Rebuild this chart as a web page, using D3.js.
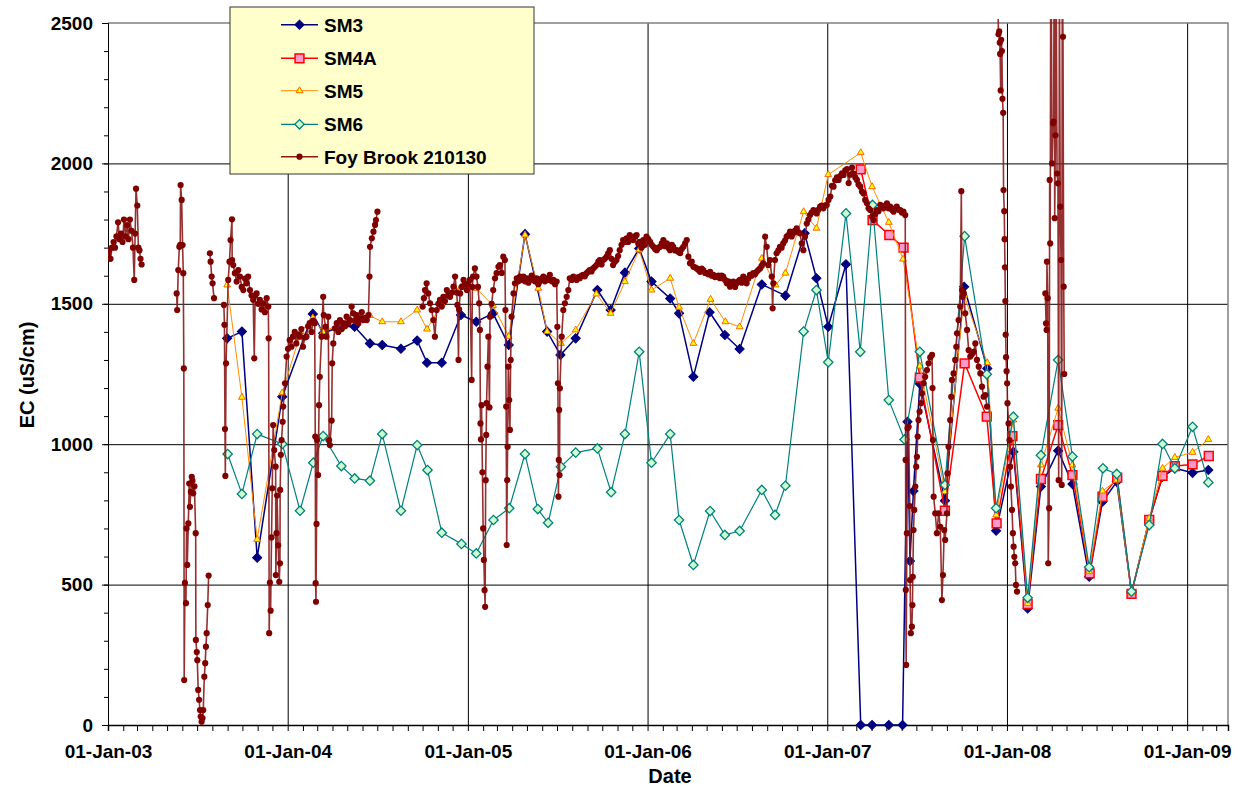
<!DOCTYPE html>
<html><head><meta charset="utf-8">
<script src="https://cdn.jsdelivr.net/npm/d3@7"></script>
<style>
body{margin:0;background:#fff;}
svg{display:block;font-family:"Liberation Sans",Arial,sans-serif;font-weight:bold;}
</style>
</head><body>
<svg id="chart" width="1242" height="788"></svg>
<script>
// ---------------- DATA ----------------
const yTickValues = [0, 500, 1000, 1500, 2000, 2500];
const seriesNames = ["SM3", "SM4A", "SM5", "SM6", "Foy Brook 210130"];

const sm3Dates = ["2003-08-31","2003-09-30","2003-10-31","2003-12-21","2004-02-21","2004-03-13","2004-04-19","2004-05-16","2004-06-16","2004-07-11","2004-08-18","2004-09-20","2004-10-10","2004-11-09","2004-12-18","2005-01-18","2005-02-21","2005-03-25","2005-04-27","2005-06-11","2005-07-08","2005-08-08","2005-09-21","2005-10-18","2005-11-16","2005-12-15","2006-01-09","2006-02-16","2006-03-06","2006-04-04","2006-05-07","2006-06-07","2006-07-07","2006-08-21","2006-10-08","2006-11-16","2006-12-10","2007-01-03","2007-02-08","2007-03-10","2007-04-02","2007-05-06","2007-06-03","2007-06-13","2007-06-18","2007-06-25","2007-07-08","2007-08-28","2007-10-06","2007-11-22","2007-12-10","2008-01-14","2008-02-12","2008-03-10","2008-04-14","2008-05-13","2008-06-16","2008-07-13","2008-08-11","2008-09-10","2008-10-16","2008-11-12","2008-12-07","2009-01-12","2009-02-13"];
const sm3EC = [1377,1401,596,1169,1464,1395,1420,1418,1359,1353,1340,1369,1290,1290,1460,1436,1466,1353,1748,1401,1318,1377,1549,1478,1611,1697,1579,1519,1466,1240,1470,1389,1339,1569,1529,1751,1591,1418,1641,0,0,0,0,1080,584,833,1215,799,1561,1270,692,973,415,849,977,858,528,795,866,471,730,884,914,898,908];

const sm4aDates = ["2007-03-10","2007-04-03","2007-05-07","2007-06-05","2007-07-08","2007-08-28","2007-10-07","2007-11-21","2007-12-11","2008-01-12","2008-02-12","2008-03-10","2008-04-14","2008-05-13","2008-06-17","2008-07-13","2008-08-12","2008-09-10","2008-10-16","2008-11-12","2008-12-07","2009-01-12","2009-02-14"];
const sm4aEC = [1979,1798,1745,1700,1237,763,1288,1098,718,1029,431,876,1068,890,540,813,881,467,730,887,922,928,958];

const sm5Dates = ["2003-08-31","2003-09-30","2003-10-31","2003-12-21","2004-01-28","2004-02-21","2004-03-13","2004-04-19","2004-05-16","2004-06-16","2004-07-11","2004-08-18","2004-09-20","2004-10-10","2004-11-09","2004-12-18","2005-01-18","2005-02-21","2005-03-25","2005-04-27","2005-05-24","2005-06-11","2005-07-09","2005-08-08","2005-09-19","2005-10-18","2005-11-16","2005-12-15","2006-01-09","2006-02-16","2006-03-06","2006-04-04","2006-05-09","2006-06-08","2006-07-07","2006-08-21","2006-09-18","2006-10-08","2006-11-14","2006-12-10","2007-01-03","2007-03-10","2007-04-02","2007-05-06","2007-06-04","2007-07-08","2007-08-28","2007-10-06","2007-11-22","2007-12-10","2008-01-14","2008-02-12","2008-03-10","2008-04-14","2008-05-13","2008-06-16","2008-07-13","2008-08-11","2008-09-10","2008-10-16","2008-11-12","2008-12-07","2009-01-12","2009-02-13"];
const sm5EC = [1567,1167,661,1183,1401,1450,1400,1430,1440,1458,1436,1436,1478,1410,1500,1560,1555,1494,1384,1745,1555,1401,1359,1407,1535,1466,1579,1692,1549,1591,1488,1359,1516,1436,1418,1662,1567,1609,1828,1769,1960,2038,1917,1790,1659,1278,831,1530,1290,748,1086,433,926,1128,926,546,833,872,471,736,914,953,971,1017];

const sm6Dates = ["2003-09-01","2003-09-30","2003-10-31","2003-12-21","2004-01-26","2004-02-22","2004-03-13","2004-04-19","2004-05-16","2004-06-16","2004-07-11","2004-08-18","2004-09-20","2004-10-11","2004-11-09","2004-12-19","2005-01-18","2005-02-22","2005-03-26","2005-04-27","2005-05-23","2005-06-13","2005-07-09","2005-08-08","2005-09-21","2005-10-19","2005-11-16","2005-12-15","2006-01-09","2006-02-16","2006-03-06","2006-04-04","2006-05-08","2006-06-07","2006-07-07","2006-08-21","2006-09-17","2006-10-08","2006-11-14","2006-12-10","2007-01-03","2007-02-08","2007-03-09","2007-04-03","2007-05-06","2007-06-07","2007-07-08","2007-08-28","2007-10-07","2007-11-21","2007-12-10","2008-01-14","2008-02-12","2008-03-10","2008-04-14","2008-05-13","2008-06-16","2008-07-14","2008-08-11","2008-09-10","2008-10-16","2008-11-12","2008-12-07","2009-01-12","2009-02-13"];
const sm6EC = [965,823,1036,1001,763,934,1029,922,878,870,1036,763,997,908,685,645,611,730,772,965,769,720,920,970,985,829,1036,1329,934,1036,730,570,762,677,691,837,748,852,1401,1549,1292,1822,1329,1852,1157,1017,1329,855,1741,1249,772,1098,453,961,1300,956,562,914,894,475,712,1001,914,1062,864];

// Foy Brook 210130: dates as decimal years; null marks a gap in the record
const foyYear = [
2003.001,2003.006,2003.014,2003.022,2003.031,2003.039,2003.047,2003.056,2003.064,2003.072,2003.081,2003.089,2003.097,2003.106,2003.114,2003.122,2003.131,2003.139,2003.146,2003.151,2003.156,2003.163,2003.169,2003.175,2003.181,2003.187,
null,
2003.382,2003.385,2003.391,2003.397,2003.402,2003.404,2003.410,2003.415,2003.419,2003.422,2003.424,2003.428,2003.434,2003.437,2003.441,2003.447,2003.452,2003.456,2003.461,2003.466,2003.470,2003.474,2003.481,2003.488,2003.489,2003.494,2003.497,2003.502,2003.507,2003.512,2003.516,2003.521,2003.526,2003.530,2003.536,2003.541,2003.545,2003.549,2003.555,2003.560,
null,
2003.567,2003.571,2003.577,2003.582,2003.590,
null,
2003.645,2003.648,2003.651,2003.653,2003.657,2003.669,2003.676,2003.682,2003.690,2003.691,2003.697,2003.706,2003.716,2003.725,2003.734,2003.744,2003.753,2003.762,2003.771,2003.780,2003.790,2003.799,2003.808,2003.814,2003.819,2003.827,2003.836,2003.845,2003.855,2003.864,2003.873,2003.883,2003.892,2003.894,2003.897,2003.901,2003.905,2003.910,2003.914,2003.919,2003.925,2003.933,2003.934,2003.938,2003.941,2003.947,2003.953,2003.957,2003.958,2003.962,2003.966,2003.972,2003.975,2003.985,2003.994,
2004.002,2004.011,2004.021,2004.029,2004.039,2004.048,2004.057,2004.067,2004.076,2004.085,2004.095,2004.104,2004.113,2004.122,2004.132,2004.141,2004.150,2004.153,2004.155,2004.157,2004.160,2004.163,2004.169,2004.174,2004.178,2004.188,2004.197,2004.200,2004.210,2004.215,2004.225,2004.230,2004.234,2004.244,2004.247,2004.253,2004.262,2004.272,2004.281,2004.290,2004.300,2004.309,2004.318,2004.327,2004.337,2004.346,2004.355,2004.364,2004.373,2004.383,2004.392,2004.400,2004.411,2004.420,2004.429,2004.439,2004.448,2004.454,2004.457,2004.467,2004.476,2004.485,2004.490,2004.498,
null,
2004.749,2004.756,2004.762,2004.771,2004.780,2004.790,2004.799,2004.808,2004.817,2004.827,2004.836,2004.845,2004.855,2004.864,2004.873,2004.883,2004.892,2004.901,2004.911,2004.920,2004.929,2004.938,2004.942,2004.948,2004.951,2004.957,2004.966,2004.976,2004.985,2004.994,
2005.002,2005.011,2005.021,2005.025,2005.029,2005.039,2005.048,2005.056,2005.063,2005.067,2005.070,2005.073,2005.076,2005.081,2005.085,2005.089,2005.093,2005.096,2005.099,2005.102,2005.104,2005.109,2005.114,2005.120,2005.123,2005.132,2005.141,2005.151,2005.160,2005.170,2005.178,2005.188,2005.197,2005.206,2005.209,2005.213,2005.216,2005.219,2005.221,2005.225,2005.230,2005.234,2005.238,2005.243,2005.254,2005.262,2005.272,2005.281,2005.290,2005.300,2005.309,2005.318,2005.327,2005.337,2005.346,2005.355,2005.364,2005.373,2005.383,2005.392,2005.400,2005.411,2005.420,2005.429,2005.439,2005.448,2005.456,2005.467,2005.476,2005.485,2005.494,2005.498,2005.501,2005.504,2005.506,2005.508,2005.510,2005.512,2005.522,2005.531,2005.540,2005.550,2005.559,2005.567,2005.578,2005.587,2005.596,2005.605,2005.615,2005.623,2005.633,2005.642,2005.651,2005.661,2005.670,2005.678,2005.688,2005.697,2005.707,2005.716,2005.726,2005.734,2005.744,2005.753,2005.762,2005.772,2005.781,2005.790,2005.799,2005.808,2005.818,2005.827,2005.836,2005.845,2005.855,2005.864,2005.873,2005.883,2005.892,2005.901,2005.911,2005.920,2005.929,2005.939,2005.948,2005.957,2005.966,2005.976,2005.985,2005.994,
2006.004,2006.014,2006.023,2006.032,2006.042,2006.051,2006.060,2006.070,2006.079,2006.088,2006.097,2006.107,2006.116,2006.125,2006.135,2006.143,2006.153,2006.162,2006.171,2006.181,2006.190,2006.199,2006.209,2006.218,2006.227,2006.236,2006.246,2006.255,2006.264,2006.274,2006.283,2006.292,2006.301,2006.310,2006.320,2006.329,2006.338,2006.348,2006.357,2006.366,2006.375,2006.385,2006.394,2006.403,2006.412,2006.421,2006.431,2006.441,2006.450,2006.459,2006.468,2006.477,2006.487,2006.496,2006.505,2006.514,2006.524,2006.533,2006.542,2006.551,2006.561,2006.570,2006.579,2006.588,2006.598,2006.607,2006.616,2006.626,2006.635,2006.644,2006.654,2006.663,2006.672,2006.681,2006.691,2006.696,2006.700,2006.709,2006.718,2006.728,2006.737,2006.746,2006.755,2006.765,2006.774,2006.783,2006.793,2006.802,2006.811,2006.820,2006.830,2006.839,2006.848,2006.858,2006.867,2006.876,2006.886,2006.895,2006.904,2006.913,2006.923,2006.932,2006.941,2006.950,2006.960,2006.969,2006.978,2006.987,2006.997,
2007.007,2007.017,2007.026,2007.035,2007.044,2007.054,2007.063,2007.072,2007.082,2007.091,2007.100,2007.110,2007.119,2007.128,2007.138,2007.147,2007.156,2007.165,2007.174,2007.184,2007.193,2007.202,2007.211,2007.221,2007.230,2007.239,2007.249,2007.258,2007.267,2007.276,2007.285,2007.295,2007.304,2007.313,2007.323,2007.332,2007.341,2007.350,2007.360,2007.369,2007.378,2007.387,2007.397,2007.406,2007.415,2007.424,2007.434,2007.436,2007.437,2007.439,2007.443,2007.447,2007.453,2007.459,2007.461,2007.465,2007.471,2007.474,2007.476,2007.480,2007.484,2007.490,2007.495,2007.499,2007.503,2007.508,2007.514,2007.522,2007.527,2007.536,2007.545,2007.555,2007.564,2007.573,2007.583,2007.586,2007.588,2007.592,2007.601,2007.610,2007.620,2007.629,2007.638,2007.644,2007.651,2007.656,2007.666,2007.669,2007.675,2007.684,2007.690,2007.694,2007.703,2007.712,2007.718,2007.722,2007.731,2007.740,2007.746,2007.750,2007.753,2007.759,2007.768,2007.778,2007.787,2007.796,2007.805,2007.815,2007.824,2007.833,2007.843,2007.852,2007.861,2007.870,2007.880,2007.889,
null,
2007.948,2007.953,2007.957,2007.960,2007.962,2007.965,2007.968,2007.972,2007.975,2007.979,2007.981,2007.985,2007.987,2007.989,2007.991,2007.993,2007.995,2007.998,2008.001,2008.003,2008.009,2008.014,2008.018,2008.022,2008.028,2008.033,2008.037,2008.041,2008.046,2008.050,2008.056,
null,
2008.213,2008.217,2008.220,2008.222,2008.226,2008.229,2008.234,2008.237,2008.240,2008.243,2008.246,2008.250,2008.256,2008.259,2008.262,2008.265,2008.269,2008.273,2008.278,2008.283,2008.287,2008.291,2008.296,2008.300,2008.304,2008.307,2008.311,2008.315,2008.318
];
const foyEC = [
1670,1690,1660,1700,1720,1700,1740,1790,1730,1750,1720,1800,1740,1780,1730,1800,1760,1700,1585,1750,1910,1850,1700,1690,1660,1640,
null,
1537,1478,1620,1703,1710,1923,1870,1709,1609,1270,160,506,434,700,570,718,860,777,830,884,870,825,850,683,303,260,231,125,90,53,30,12,25,53,172,220,279,327,427,532,
null,
1680,1650,1597,1573,1520,
null,
1496,1425,1054,887,1288,1585,1650,1727,1801,1656,1638,1609,1579,1620,1597,1560,1549,1590,1573,1597,1549,1530,1514,1306,1530,1537,1500,1514,1480,1502,1470,1520,1490,1377,327,507,407,668,843,1068,979,920,534,683,817,640,510,576,837,962,1015,1080,1134,1217,1312,
1340,1371,1347,1383,1400,1359,1390,1383,1410,1347,1380,1383,1420,1431,1400,1440,1431,1027,505,439,716,1015,890,1139,1240,1383,1525,1460,1418,1383,1454,1015,997,1084,1288,1359,1413,1431,1400,1442,1410,1431,1420,1454,1430,1442,1490,1466,1440,1460,1430,1448,1470,1442,1450,1442,1460,1597,1703,1733,1757,1781,1798,1828,
null,
1490,1520,1549,1573,1537,1502,1478,1442,1383,1478,1500,1514,1490,1525,1510,1549,1530,1525,1540,1561,1597,1540,1496,1300,1480,1537,1560,1585,1570,1549,
1570,1585,1229,1560,1597,1626,1597,1560,1502,1407,1074,1017,1139,900,700,588,480,421,872,1033,1146,1276,1383,1131,1454,1500,1549,1591,1609,1632,1638,1610,1668,1656,1478,1134,641,872,991,1276,1157,1051,1300,1454,1537,1573,1591,1580,1597,1585,1597,1580,1591,1575,1591,1600,1585,1580,1591,1570,1579,1590,1597,1580,1591,1585,1603,1580,1585,1570,1579,1418,1217,813,944,1122,890,1199,1383,1478,1502,1525,1549,1591,1585,1597,1590,1585,1595,1591,1600,1603,1598,1609,1615,1620,1615,1626,1632,1638,1650,1656,1640,1656,1660,1668,1680,1691,1660,1638,1650,1656,1670,1691,1710,1727,1720,1733,1720,1745,1730,1727,1740,1745,1715,1721,1700,1727,1710,1739,
1730,1721,1710,1703,1695,1691,1700,1703,1715,1727,1705,1715,1700,1691,1710,1703,1690,1691,1685,1680,1695,1703,1715,1727,1668,1644,1650,1632,1630,1626,1620,1614,1625,1620,1610,1609,1605,1614,1600,1603,1595,1597,1600,1591,1600,1597,1585,1573,1580,1561,1575,1579,1560,1573,1580,1585,1575,1597,1585,1573,1590,1603,1600,1609,1605,1614,1620,1626,1635,1644,1739,1703,1638,1656,1597,1484,1573,1656,1680,1690,1703,1700,1715,1725,1739,1745,1757,1740,1751,1760,1769,1755,1751,1715,1691,1739,1786,1800,1816,1825,1834,1830,1822,1835,1846,1850,1840,1850,1852,
1870,1882,1920,1917,1940,1950,1941,1955,1965,1959,1975,1980,1930,1960,1985,1964,1950,1941,1925,1917,1900,1893,1870,1858,1840,1834,1810,1798,1820,1834,1830,1852,1845,1840,1850,1858,1840,1846,1835,1828,1840,1846,1835,1834,1825,1828,1816,944,481,214,683,1057,1062,780,516,327,350,427,528,694,766,849,920,955,1027,1086,1116,1146,1181,1217,1240,1264,1288,1309,1318,1200,1015,813,754,683,754,706,445,534,694,659,754,896,991,1086,1169,1229,1252,1300,1347,1395,1442,1490,1901,1549,1525,1537,1466,1407,1335,1312,1320,1329,1359,1300,1276,1252,1205,1169,1175,1134,
null,
2620,2460,2470,2430,2390,2260,2440,2400,2230,2180,1905,1830,1730,1630,1510,1390,1310,1260,1217,1146,1074,1015,920,849,766,683,635,599,576,499,475,
null,
1537,1430,1407,1650,1520,576,772,1941,1715,2650,2650,2000,2143,2149,2700,1805,2100,2700,1964,1929,872,2650,1846,1656,855,2650,2451,1561,1250
];

// ---------------- CHART ----------------
const svg = d3.select("#chart");
const L = 108, R = 1228, T = 23, B = 725;
const parse = d3.utcParse("%Y-%m-%d");
const fromDecimalYear = t => {
  const yr = Math.floor(t), a = Date.UTC(yr, 0, 1), b = Date.UTC(yr + 1, 0, 1);
  return new Date(a + (t - yr) * (b - a));
};

const x = d3.scaleUtc().domain([new Date(Date.UTC(2003,0,1)), new Date(Date.UTC(2009,2,25))]).range([L, R]);
const y = d3.scaleLinear().domain([0, 2500]).range([B, T]);

svg.append("rect").attr("x", L).attr("y", T).attr("width", R - L).attr("height", B - T).attr("fill", "#fff");

// horizontal gridlines
svg.append("g").attr("transform", `translate(${L},0)`)
  .call(d3.axisLeft(y).tickValues(yTickValues.filter(v => v > 0 && v < 2500)).tickSize(-(R - L)).tickFormat(""))
  .call(g => g.select(".domain").remove())
  .call(g => g.selectAll("line").attr("stroke", "#000").attr("stroke-width", 1));

// vertical gridlines at each year
svg.append("g").attr("transform", `translate(0,${B})`)
  .call(d3.axisBottom(x).ticks(d3.utcYear.every(1)).tickSize(-(B - T)).tickFormat(""))
  .call(g => g.select(".domain").remove())
  .call(g => g.selectAll("line").attr("stroke", "#000").attr("stroke-width", 1));

// top / right border (grey)
svg.append("path").attr("d", `M${L},${T}H${R}V${B}`).attr("fill", "none").attr("stroke", "#808080").attr("stroke-width", 1.5);

// Y axis minor ticks
svg.append("g").attr("transform", `translate(${L},0)`)
  .call(d3.axisLeft(y).tickValues(d3.range(0, 2501, 100)).tickSize(4).tickFormat(""))
  .call(g => g.selectAll("line").attr("stroke", "#000"))
  .call(g => g.select(".domain").attr("stroke", "#000"));
// Y axis major ticks + labels
svg.append("g").attr("transform", `translate(${L},0)`)
  .call(d3.axisLeft(y).tickValues(yTickValues).tickSize(6).tickPadding(9).tickFormat(d3.format("d")))
  .call(g => g.select(".domain").remove())
  .call(g => g.selectAll("line").attr("stroke", "#000"))
  .call(g => g.selectAll("text").attr("font-size", 19).attr("font-weight", "bold").attr("fill", "#000")
      .attr("font-family", "'Liberation Sans',Arial,sans-serif"));

// X axis: monthly ticks, labels each January
const fmt = d3.utcFormat("%d-%b-%y");
svg.append("g").attr("transform", `translate(0,${B})`)
  .call(d3.axisBottom(x).ticks(d3.utcMonth.every(1)).tickSize(6).tickPadding(14)
    .tickFormat(d => d.getUTCMonth() === 0 ? fmt(d) : ""))
  .call(g => g.select(".domain").attr("stroke", "#000").attr("stroke-width", 1.5))
  .call(g => g.selectAll("line").attr("stroke", "#000"))
  .call(g => g.selectAll("text").attr("font-size", 19).attr("font-weight", "bold").attr("fill", "#000")
      .attr("font-family", "'Liberation Sans',Arial,sans-serif"));

// axis titles
svg.append("text").attr("x", 670).attr("y", 783).attr("text-anchor", "middle")
  .attr("font-size", 20).text("Date");
svg.append("text").attr("transform", "translate(34,375) rotate(-90)").attr("text-anchor", "middle")
  .attr("font-size", 20).text("EC (uS/cm)");

// series
const mk = (dates, vals) => dates.map((d, i) => ({ d: parse(d), v: vals[i] }));
const series = [
  { name: seriesNames[0], data: mk(sm3Dates, sm3EC), line: "#000080", lw: 1.5,
    sym: d3.symbolSquare, size: 42, rot: 45, fill: "#000080", stroke: "#000080", sw: 1 },
  { name: seriesNames[1], data: mk(sm4aDates, sm4aEC), line: "#FF0000", lw: 1.5,
    sym: d3.symbolSquare, size: 78, rot: 0, fill: "#FF99CC", stroke: "#FF0000", sw: 1.5 },
  { name: seriesNames[2], data: mk(sm5Dates, sm5EC), line: "#FF8C00", lw: 1,
    sym: d3.symbolTriangle, size: 20, rot: 0, fill: "#FFFF00", stroke: "#FF6600", sw: 1 },
  { name: seriesNames[3], data: mk(sm6Dates, sm6EC), line: "#008080", lw: 1.2,
    sym: d3.symbolSquare, size: 44, rot: 45, fill: "#CCFFCC", stroke: "#008080", sw: 1.3 }
];

const lineGen = d3.line().defined(p => p.v != null).x(p => x(p.d)).y(p => y(p.v));

series.forEach(s => {
  const g = svg.append("g");
  g.append("path").datum(s.data).attr("d", lineGen).attr("fill", "none")
    .attr("stroke", s.line).attr("stroke-width", s.lw).attr("stroke-linejoin", "round");
  g.selectAll("path.m").data(s.data).join("path").attr("class", "m")
    .attr("d", d3.symbol(s.sym, s.size))
    .attr("transform", p => `translate(${x(p.d)},${y(p.v)}) rotate(${s.rot})`)
    .attr("fill", s.fill).attr("stroke", s.stroke).attr("stroke-width", s.sw);
});

// Foy Brook (clipped at top of plot)
svg.append("clipPath").attr("id", "clip").append("rect")
  .attr("x", L).attr("y", T - 4).attr("width", R - L).attr("height", B - T + 10);
const foy = foyYear.map((t, i) => ({ d: t == null ? null : fromDecimalYear(t), v: foyEC[i] }));
const fg = svg.append("g").attr("clip-path", "url(#clip)");
fg.append("path").datum(foy).attr("d", lineGen).attr("fill", "none")
  .attr("stroke", "#8B1A1A").attr("stroke-width", 1.6).attr("stroke-opacity", 0.9);
fg.selectAll("circle").data(foy.filter(p => p.v != null)).join("circle")
  .attr("cx", p => x(p.d)).attr("cy", p => y(p.v)).attr("r", 3.1).attr("fill", "#800000");

// legend
const lg = svg.append("g");
lg.append("rect").attr("x", 230).attr("y", 7).attr("width", 304).attr("height", 167)
  .attr("fill", "#FFFFCC").attr("stroke", "#333").attr("stroke-width", 1);
const rowsY = [24.7, 58.3, 90.7, 124.3, 156.7];
const legendItems = series.map(s => ({ name: s.name, line: s.line, lw: s.lw, sym: s.sym, size: s.size, rot: s.rot, fill: s.fill, stroke: s.stroke, sw: s.sw }))
  .concat([{ name: seriesNames[4], line: "#8B1A1A", lw: 1.6, circle: true }]);
legendItems.forEach((it, i) => {
  const yy = rowsY[i];
  lg.append("line").attr("x1", 281).attr("x2", 318).attr("y1", yy).attr("y2", yy)
    .attr("stroke", it.line).attr("stroke-width", it.lw);
  if (it.circle) {
    lg.append("circle").attr("cx", 299.5).attr("cy", yy).attr("r", 3.1).attr("fill", "#800000");
  } else {
    lg.append("path").attr("d", d3.symbol(it.sym, it.size))
      .attr("transform", `translate(299.5,${yy}) rotate(${it.rot})`)
      .attr("fill", it.fill).attr("stroke", it.stroke).attr("stroke-width", it.sw);
  }
  lg.append("text").attr("x", 324).attr("y", yy).attr("dy", "0.36em")
    .attr("font-size", 19).text(it.name);
});
</script>
</body></html>
